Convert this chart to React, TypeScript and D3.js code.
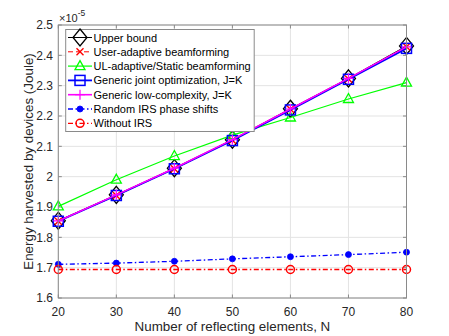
import React from "react";
import * as d3 from "d3";

const N = [20, 30, 40, 50, 60, 70, 80];
const upperBound = [1.855, 1.94, 2.028, 2.122, 2.224, 2.324, 2.431];
const userAdaptive = [1.853, 1.938, 2.026, 2.12, 2.222, 2.322, 2.428];
const ulAdaptive = [1.902, 1.99, 2.068, 2.137, 2.195, 2.256, 2.31];
const genericJoint = [1.853, 1.938, 2.026, 2.119, 2.22, 2.321, 2.423];
const genericLow = [1.854, 1.94, 2.028, 2.122, 2.223, 2.324, 2.428];
const randomIRS = [1.711, 1.715, 1.721, 1.729, 1.736, 1.743, 1.751];
const withoutIRS = [1.694, 1.694, 1.694, 1.694, 1.694, 1.694, 1.694];
const yTicks = [1.6, 1.7, 1.8, 1.9, 2.0, 2.1, 2.2, 2.3, 2.4, 2.5];
const xTicks = [20, 30, 40, 50, 60, 70, 80];

type Marker = "diamond" | "x" | "triangle" | "square" | "plus" | "dot" | "circle";
interface Series {
  name: string;
  values: number[];
  color: string;
  dash: string;
  width: number;
  marker: Marker;
}

const series: Series[] = [
  { name: "Upper bound", values: upperBound, color: "#000000", dash: "", width: 1, marker: "diamond" },
  { name: "User-adaptive beamforming", values: userAdaptive, color: "#ff0000", dash: "5,3", width: 1, marker: "x" },
  { name: "UL-adaptive/Static beamforming", values: ulAdaptive, color: "#00ff00", dash: "", width: 1.2, marker: "triangle" },
  { name: "Generic joint optimization, J=K", values: genericJoint, color: "#0000ff", dash: "", width: 1.8, marker: "square" },
  { name: "Generic low-complexity, J=K", values: genericLow, color: "#ff00ff", dash: "", width: 1.6, marker: "plus" },
  { name: "Random IRS phase shifts", values: randomIRS, color: "#0000ff", dash: "5,2.5,1.5,2.5", width: 1.3, marker: "dot" },
  { name: "Without IRS", values: withoutIRS, color: "#ff0000", dash: "5,2.5,1.5,2.5", width: 1.3, marker: "circle" },
];

const FONT = "'Liberation Sans', Arial, Helvetica, sans-serif";

function MarkerShape({ m, x, y, color }: { m: Marker; x: number; y: number; color: string }) {
  switch (m) {
    case "diamond":
      return <path d={`M${x},${y - 8.5} L${x + 7},${y} L${x},${y + 8.5} L${x - 7},${y} Z`} fill="none" stroke={color} strokeWidth={1.3} />;
    case "x":
      return <path d={`M${x - 3.5},${y - 3.5} L${x + 3.5},${y + 3.5} M${x - 3.5},${y + 3.5} L${x + 3.5},${y - 3.5}`} stroke={color} strokeWidth={1.4} />;
    case "triangle":
      return <path d={`M${x},${y - 5.5} L${x + 5},${y + 3.5} L${x - 5},${y + 3.5} Z`} fill="none" stroke={color} strokeWidth={1.3} />;
    case "square":
      return <rect x={x - 5} y={y - 5} width={10} height={10} fill="none" stroke={color} strokeWidth={1.5} />;
    case "plus":
      return <path d={`M${x - 5},${y} L${x + 5},${y} M${x},${y - 5} L${x},${y + 5}`} stroke={color} strokeWidth={1.2} />;
    case "dot":
      return <circle cx={x} cy={y} r={3} fill={color} stroke={color} strokeWidth={0.8} />;
    case "circle":
      return <circle cx={x} cy={y} r={4} fill="none" stroke={color} strokeWidth={1.5} />;
  }
  return null;
}

export default function App() {
  const W = 449;
  const H = 336;
  const left = 58.3;
  const right = 406.5;
  const top = 25;
  const bottom = 298;
  const x = d3.scaleLinear().domain([20, 80]).range([left, right]);
  const y = d3.scaleLinear().domain([1.6, 2.5]).range([bottom, top]);
  const line = d3
    .line<number>()
    .x((_, i) => x(N[i]))
    .y((d) => y(d));

  const axisColor = "#8a8a8a";
  const textColor = "#262626";
  const gridColor = "#e3e3e3";

  const legX = 65.7;
  const legY = 29.5;
  const legW = 188.5;
  const legH = 102;
  const rowY0 = 37.5;
  const rowStep = 14.3;

  return (
    <svg width={W} height={H} style={{ position: "absolute", left: 0, top: 0, background: "#fff" }} fontFamily={FONT}>
      <rect x={0} y={0} width={W} height={H} fill="#fff" />
      {/* grid */}
      {xTicks.map((t) => (
        <line key={"gx" + t} x1={x(t)} x2={x(t)} y1={top} y2={bottom} stroke={gridColor} strokeWidth={1} />
      ))}
      {yTicks.map((t) => (
        <line key={"gy" + t} x1={left} x2={right} y1={y(t)} y2={y(t)} stroke={gridColor} strokeWidth={1} />
      ))}
      {/* ticks */}
      {xTicks.map((t) => (
        <g key={"tx" + t}>
          <line x1={x(t)} x2={x(t)} y1={bottom} y2={bottom - 3.5} stroke={axisColor} />
          <line x1={x(t)} x2={x(t)} y1={top} y2={top + 3.5} stroke={axisColor} />
          <text x={x(t)} y={316} textAnchor="middle" fontSize={12} fill={textColor}>
            {t}
          </text>
        </g>
      ))}
      {yTicks.map((t) => (
        <g key={"ty" + t}>
          <line x1={left} x2={left + 3.5} y1={y(t)} y2={y(t)} stroke={axisColor} />
          <line x1={right} x2={right - 3.5} y1={y(t)} y2={y(t)} stroke={axisColor} />
          <text x={53} y={y(t) + 4.2} textAnchor="end" fontSize={12} fill={textColor}>
            {d3.format(".1f")(t).replace(/^2\.0$/, "2")}
          </text>
        </g>
      ))}
      {/* exponent */}
      <text x={59} y={21.5} fontSize={11} fill={textColor}>
        ×10
        <tspan dy={-5.5} fontSize={8.5}>
          -5
        </tspan>
      </text>
      {/* series */}
      {series.map((s) => (
        <g key={s.name}>
          <path d={line(s.values) || ""} fill="none" stroke={s.color} strokeWidth={s.width} strokeDasharray={s.dash || undefined} />
          {s.values.map((v, i) => (
            <MarkerShape key={i} m={s.marker} x={x(N[i])} y={y(v)} color={s.color} />
          ))}
        </g>
      ))}
      {/* axes box */}
      <rect x={left} y={top} width={right - left} height={bottom - top} fill="none" stroke={axisColor} strokeWidth={1} />
      {/* labels */}
      <text x={(left + right) / 2} y={331} textAnchor="middle" fontSize={13.4} fill={textColor}>
        Number of reflecting elements, N
      </text>
      <text transform={`translate(33,${(top + bottom) / 2}) rotate(-90)`} textAnchor="middle" fontSize={13.4} fill={textColor}>
        Energy harvested by devices (Joule)
      </text>
      {/* legend */}
      <rect x={legX} y={legY} width={legW} height={legH} fill="#fff" stroke={axisColor} strokeWidth={1} />
      {series.map((s, i) => {
        const cy = rowY0 + i * rowStep;
        return (
          <g key={"leg" + s.name}>
            <line x1={68} x2={92} y1={cy} y2={cy} stroke={s.color} strokeWidth={s.width} strokeDasharray={s.dash || undefined} />
            <MarkerShape m={s.marker} x={80} y={cy} color={s.color} />
            <text x={93.5} y={cy + 4} fontSize={11} fill="#000">
              {s.name}
            </text>
          </g>
        );
      })}
    </svg>
  );
}
